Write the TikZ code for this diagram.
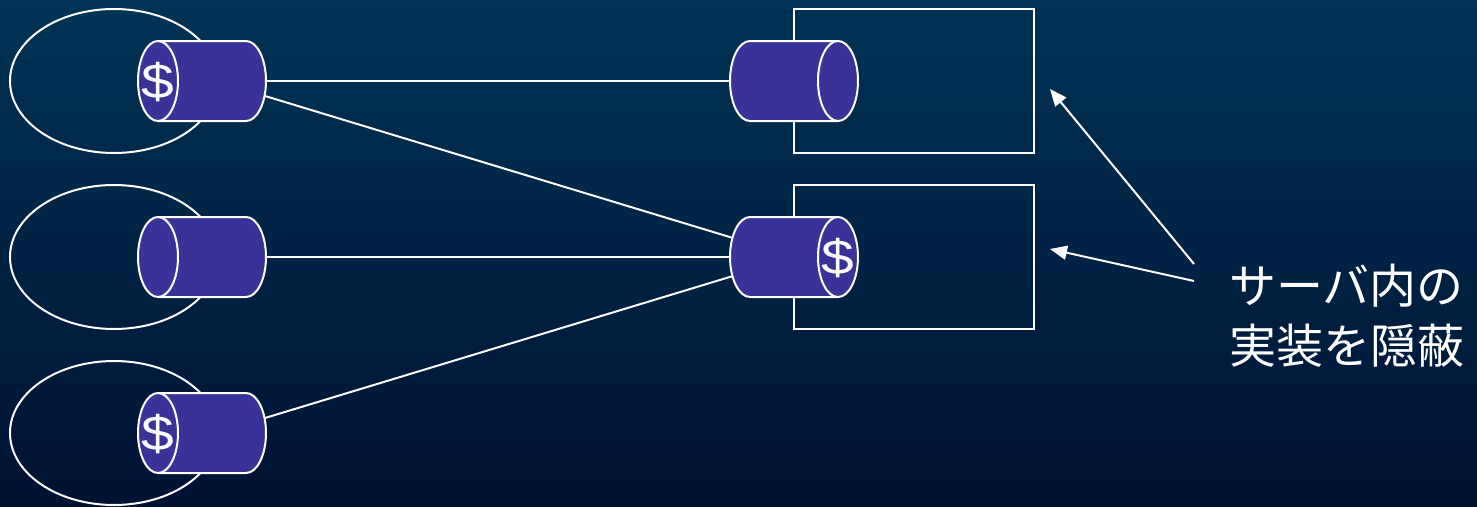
\documentclass[tikz,border=0pt]{standalone}
\usepackage{fontspec}
\setmainfont{Liberation Sans}
\newfontfamily\jpfont{Noto Sans CJK JP}
\newfontfamily\dollarfont[FakeStretch=1.2]{Liberation Sans}
\usetikzlibrary{arrows.meta,shapes.geometric}
\definecolor{bgtop}{HTML}{003355}
\definecolor{bgbot}{HTML}{001133}
\definecolor{cylfill}{HTML}{393399}
\tikzset{
  x=1pt,y=-1pt,
  wire/.style={draw=white,line width=2pt},
  pointer/.style={wire,-{Triangle[length=17pt,width=14pt]}},
  client/.style={ellipse,draw=white,line width=2pt,minimum width=208pt,minimum height=144pt,inner sep=0pt},
  server/.style={rectangle,draw=white,line width=2pt,minimum width=240pt,minimum height=144pt,inner sep=0pt},
  cylbox/.style={rectangle,minimum width=128pt,minimum height=80pt,inner sep=0pt},
  capface/.style={ellipse,draw=white,fill=cylfill,line width=2pt,minimum width=40pt,minimum height=80pt,inner sep=0pt},
  dollar/.style={inner sep=0pt,text=white,font=\dollarfont\fontsize{49}{49}\selectfont},
  caption/.style={text=white,align=left,inner sep=0pt,anchor=north west,font=\jpfont\fontsize{47}{60}\selectfont}
}
% #1 name, #2 centre x, #3 centre y, #4 dollar text
\newcommand{\cylleft}[4]{%
  \node[cylbox] (#1) at (#2,#3) {};
  \fill[cylfill] (#2-44,#3-40) -- (#2+44,#3-40) arc[start angle=90,end angle=-90,x radius=20,y radius=-40] -- (#2-44,#3+40) -- cycle;
  \draw[wire] (#2-44,#3-40) -- (#2+44,#3-40) arc[start angle=90,end angle=-90,x radius=20,y radius=-40] -- (#2-44,#3+40);
  \node[capface] (#1f) at (#2-44,#3) {};
  \node[dollar] (#1d) at (#2-44,#3+1) {#4};
}
\newcommand{\cylright}[4]{%
  \node[cylbox] (#1) at (#2,#3) {};
  \fill[cylfill] (#2+44,#3-40) -- (#2-44,#3-40) arc[start angle=90,end angle=270,x radius=20,y radius=-40] -- (#2+44,#3+40) -- cycle;
  \draw[wire] (#2+44,#3-40) -- (#2-44,#3-40) arc[start angle=90,end angle=270,x radius=20,y radius=-40] -- (#2+44,#3+40);
  \node[capface] (#1f) at (#2+44,#3) {};
  \node[dollar] (#1d) at (#2+44,#3+1) {#4};
}
\begin{document}
\begin{tikzpicture}
\useasboundingbox (0,0) rectangle (1477,506);
\shade[top color=bgtop,bottom color=bgbot] (0,0) rectangle (1477,506);
\node[client] (c1) at (114,81) {};
\node[client] (c2) at (114,257) {};
\node[client] (c3) at (114,433) {};
\node[server] (s1) at (914,81) {};
\node[server] (s2) at (914,257) {};
\coordinate (a1) at (265,96);
\coordinate (a2) at (733,238);
\coordinate (a3) at (265,418);
\coordinate (a4) at (733,276);
\cylleft{p1}{202}{81}{\$}
\cylleft{p2}{202}{257}{}
\cylleft{p3}{202}{433}{\$}
\cylright{q1}{794}{81}{}
\cylright{q2}{794}{257}{\$}
\draw[wire] (p1.east) -- (q1.west);
\draw[wire] (a1) -- (a2);
\draw[wire] (p2.east) -- (q2.west);
\draw[wire] (a3) -- (a4);
\node[caption] (cap) at (1229,264) {サーバ内の\\実装を隠蔽};
\coordinate (t1) at (1194,264);
\coordinate (t2) at (1194,281);
\coordinate (h1) at (1050,89);
\coordinate (h2) at (1050,249);
\draw[pointer] (t1) -- (h1);
\draw[pointer] (t2) -- (h2);
\end{tikzpicture}
\end{document}
